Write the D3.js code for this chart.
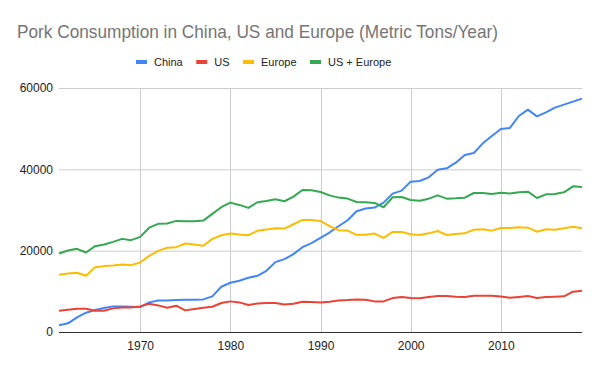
<!DOCTYPE html>
<html>
<head>
<meta charset="utf-8">
<script src="https://cdn.jsdelivr.net/npm/d3@7"></script>
<style>
  body { margin: 0; background: #fff; }
  svg { display: block; font-family: "Liberation Sans", Arial, sans-serif; }
</style>
</head>
<body>
<div id="chart"></div>
<script>
// values (metric tons / year)
const years = d3.range(1961, 2020)

const china = [1640, 2130, 3600, 4740, 5400, 5890, 6300, 6300, 6220, 6130,
    7280, 7770, 7770, 7850, 7930, 7930, 8020, 8750, 11120, 12110,
    12600, 13330, 13820, 15050, 17180, 17910, 19140, 20860, 21840, 23150,
    24460, 26010, 27480, 29690, 30350, 30590, 31820, 34030, 34770, 36970,
    37130, 38030, 39920, 40250, 41640, 43530, 44020, 46390, 48200, 49920,
    50170, 53120, 54670, 53030, 54020, 55170, 55900, 56640, 57380]

const us = [5240, 5480, 5730, 5730, 5240, 5240, 5810, 6050, 6050, 6300,
    6950, 6540, 5970, 6460, 5320, 5640, 5970, 6220, 7120, 7530,
    7280, 6630, 7030, 7120, 7120, 6790, 6950, 7440, 7360, 7280,
    7450, 7770, 7850, 8020, 7930, 7530, 7530, 8340, 8590, 8340,
    8300, 8610, 8850, 8850, 8690, 8610, 8930, 8930, 8930, 8730,
    8400, 8610, 8850, 8360, 8610, 8690, 8770, 9920, 10160]

const europe = [14070, 14400, 14560, 13820, 15950, 16200, 16360, 16600, 16440, 17100,
    18730, 19960, 20700, 20860, 21760, 21510, 21190, 22900, 23800, 24210,
    23970, 23800, 24870, 25190, 25520, 25440, 26500, 27570, 27570, 27320,
    26050, 25030, 24950, 23890, 23890, 24210, 23150, 24620, 24620, 24050,
    23830, 24260, 24840, 23850, 24100, 24260, 25160, 25250, 24920, 25570,
    25570, 25740, 25660, 24670, 25250, 25160, 25490, 25900, 25490]

const usEurope = [19300, 20040, 20450, 19550, 21100, 21510, 22170, 22900, 22580, 23400,
    25650, 26590, 26670, 27320, 27240, 27240, 27400, 29040, 30680, 31820,
    31250, 30510, 31900, 32230, 32640, 32150, 33290, 34930, 34850, 34440,
    33600, 33050, 32800, 31980, 31900, 31740, 30680, 33130, 33210, 32470,
    32270, 32790, 33610, 32790, 32870, 33030, 34180, 34180, 33940, 34260,
    34060, 34350, 34510, 32950, 33860, 33940, 34350, 35820, 35660]

const seriesNames = ["China", "US", "Europe", "US + Europe"]
const seriesColors = ["#4285F4", "#EA4335", "#FBBC04", "#34A853"]
const yTicks = [0, 20000, 40000, 60000]
const xTicks = [1970, 1980, 1990, 2000, 2010]

const series = [china, us, europe, usEurope].map((vals, i) => ({
    name: seriesNames[i],
    color: seriesColors[i],
    values: vals.map((v, j) => ({year: years[j], value: v}))
}))

const W = 600, H = 371
const margin = {top: 88, right: 18, bottom: 39, left: 59}
const width = W - margin.left - margin.right
const height = H - margin.top - margin.bottom

const svg = d3.select("#chart").append("svg")
    .attr("width", W)
    .attr("height", H)

// title (glyphs in the original are a bit condensed)
svg.append("text")
    .attr("x", 17)
    .attr("y", 37.5)
    .attr("textLength", 481)
    .attr("lengthAdjust", "spacingAndGlyphs")
    .style("font-size", "19px")
    .style("fill", "#757575")
    .text("Pork Consumption in China, US and Europe (Metric Tons/Year)")

// legend
const legend = svg.append("g").attr("transform", "translate(136,62)")
let lx = 0
series.forEach((s) => {
    const g = legend.append("g").attr("transform", "translate(" + lx + ",0)")
    g.append("rect")
        .attr("x", 0).attr("y", -2)
        .attr("width", 11).attr("height", 4)
        .attr("fill", s.color)
    const t = g.append("text")
        .attr("x", 18).attr("y", 4)
        .style("font-size", "11px")
        .style("fill", "#222")
        .text(s.name)
    lx += 18 + t.node().getComputedTextLength() + 13.5
})

const plot = svg.append("g")
    .attr("transform", "translate(" + margin.left + "," + margin.top + ")")

const x = d3.scaleLinear().domain([1961, 2019]).range([0, width])
const y = d3.scaleLinear().domain([0, 60000]).range([height, 0])

// gridlines
plot.append("g")
    .selectAll("line.h")
    .data(yTicks.slice(1))
    .enter().append("line")
    .attr("x1", 0).attr("x2", width)
    .attr("y1", (d) => y(d) + 0.5).attr("y2", (d) => y(d) + 0.5)
    .attr("stroke", "#cccccc")

plot.append("g")
    .selectAll("line.v")
    .data(xTicks)
    .enter().append("line")
    .attr("x1", (d) => Math.round(x(d)) + 0.5).attr("x2", (d) => Math.round(x(d)) + 0.5)
    .attr("y1", 0).attr("y2", height)
    .attr("stroke", "#cccccc")

// y axis labels
const yAxis = plot.append("g")
    .call(d3.axisLeft(y).tickValues(yTicks).tickSize(0).tickPadding(6).tickFormat(d3.format("d")))
yAxis.select(".domain").remove()
yAxis.selectAll("text").style("font-size", "12px").style("fill", "#222").style("font-family", "'Liberation Sans', Arial, sans-serif")

// x axis labels
const xAxis = plot.append("g")
    .attr("transform", "translate(0," + height + ")")
    .call(d3.axisBottom(x).tickValues(xTicks).tickSize(0).tickPadding(9).tickFormat(d3.format("d")))
xAxis.select(".domain").remove()
xAxis.selectAll("text").style("font-size", "12px").style("fill", "#222").style("font-family", "'Liberation Sans', Arial, sans-serif")

// lines
const line = d3.line()
    .x((d) => x(d.year))
    .y((d) => y(d.value))

plot.selectAll("path.series")
    .data(series)
    .enter().append("path")
    .attr("class", "series")
    .attr("d", (d) => line(d.values))
    .attr("fill", "none")
    .attr("stroke", (d) => d.color)
    .attr("stroke-width", 2)
    .attr("stroke-linejoin", "round")

// baseline
plot.append("line")
    .attr("x1", 0).attr("x2", width)
    .attr("y1", height + 0.5).attr("y2", height + 0.5)
    .attr("stroke", "#333")
</script>
</body>
</html>
